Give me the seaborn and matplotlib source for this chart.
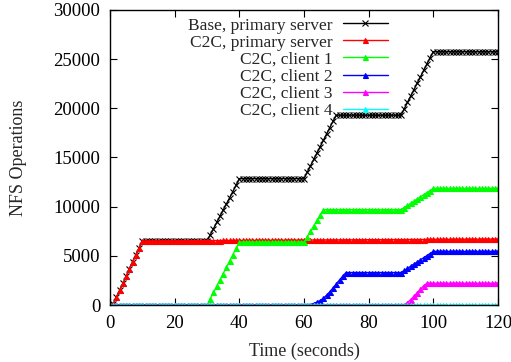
import matplotlib
matplotlib.use("Agg")
import matplotlib.pyplot as plt
import seaborn as sns
import pandas as pd

# ---- data (1 s sampling, t = 0..120) ----
time_s = list(range(0, 121))

base_primary = [
    0, 100, 800, 1500, 2200, 2900, 3700, 4400, 5100, 5800,
    6500, 6500, 6500, 6500, 6500, 6500, 6500, 6500, 6500, 6500,
    6500, 6500, 6500, 6500, 6500, 6500, 6500, 6500, 6500, 6500,
    6500, 7130, 7760, 8390, 9020, 9650, 10280, 10910, 11540, 12170,
    12850, 12850, 12850, 12850, 12850, 12850, 12850, 12850, 12850, 12850,
    12850, 12850, 12850, 12850, 12850, 12850, 12850, 12850, 12850, 12850,
    12850, 13500, 14150, 14800, 15450, 16100, 16750, 17400, 18050, 18700,
    19300, 19300, 19300, 19300, 19300, 19300, 19300, 19300, 19300, 19300,
    19300, 19300, 19300, 19300, 19300, 19300, 19300, 19300, 19300, 19300,
    19300, 19950, 20600, 21250, 21900, 22550, 23200, 23850, 24500, 25150,
    25750, 25750, 25750, 25750, 25750, 25750, 25750, 25750, 25750, 25750,
    25750, 25750, 25750, 25750, 25750, 25750, 25750, 25750, 25750, 25750,
    25750,
]

c2c_primary = [
    0, 100, 800, 1500, 2200, 2900, 3700, 4400, 5100, 5800,
    6500, 6500, 6500, 6500, 6510, 6510, 6510, 6510, 6520, 6520,
    6520, 6520, 6530, 6530, 6530, 6530, 6540, 6540, 6540, 6540,
    6550, 6550, 6550, 6550, 6550, 6560, 6560, 6560, 6560, 6560,
    6570, 6570, 6570, 6570, 6570, 6580, 6580, 6580, 6580, 6580,
    6590, 6590, 6590, 6590, 6590, 6600, 6600, 6600, 6600, 6600,
    6600, 6600, 6610, 6610, 6610, 6610, 6610, 6620, 6620, 6620,
    6620, 6620, 6620, 6630, 6630, 6630, 6630, 6630, 6630, 6640,
    6640, 6640, 6640, 6640, 6640, 6650, 6650, 6650, 6650, 6650,
    6650, 6650, 6660, 6660, 6660, 6660, 6660, 6660, 6670, 6670,
    6670, 6670, 6670, 6670, 6680, 6680, 6680, 6680, 6680, 6680,
    6690, 6690, 6690, 6690, 6690, 6690, 6700, 6700, 6700, 6700,
    6700,
]

c2c_client1 = [
    0, 0, 0, 0, 0, 0, 0, 0, 0, 0,
    0, 0, 0, 0, 0, 0, 0, 0, 0, 0,
    0, 0, 0, 0, 0, 0, 0, 0, 0, 0,
    0, 640, 1280, 1920, 2560, 3200, 3840, 4480, 5120, 5760,
    6400, 6400, 6400, 6400, 6400, 6400, 6400, 6400, 6400, 6400,
    6400, 6400, 6400, 6400, 6400, 6400, 6400, 6400, 6400, 6400,
    6400, 6950, 7500, 8050, 8600, 9150, 9700, 9700, 9700, 9700,
    9700, 9700, 9700, 9700, 9700, 9700, 9700, 9700, 9700, 9700,
    9700, 9700, 9700, 9700, 9700, 9700, 9700, 9700, 9700, 9700,
    9700, 9915, 10130, 10345, 10560, 10775, 10990, 11205, 11420, 11635,
    11850, 11850, 11850, 11850, 11850, 11850, 11850, 11850, 11850, 11850,
    11850, 11850, 11850, 11850, 11850, 11850, 11850, 11850, 11850, 11850,
    11850,
]

c2c_client2 = [
    0, 0, 0, 0, 0, 0, 0, 0, 0, 0,
    0, 0, 0, 0, 0, 0, 0, 0, 0, 0,
    0, 0, 0, 0, 0, 0, 0, 0, 0, 0,
    0, 0, 0, 0, 0, 0, 0, 0, 0, 0,
    0, 0, 0, 0, 0, 0, 0, 0, 0, 0,
    0, 0, 0, 0, 0, 0, 0, 0, 0, 0,
    0, 20, 50, 150, 300, 450, 700, 1000, 1350, 1750,
    2150, 2550, 2950, 3300, 3300, 3300, 3300, 3300, 3300, 3300,
    3300, 3300, 3300, 3300, 3300, 3300, 3300, 3300, 3300, 3300,
    3300, 3515, 3730, 3945, 4160, 4375, 4590, 4805, 5020, 5235,
    5450, 5450, 5450, 5450, 5450, 5450, 5450, 5450, 5450, 5450,
    5450, 5450, 5450, 5450, 5450, 5450, 5450, 5450, 5450, 5450,
    5450,
]

c2c_client3 = [
    0, 0, 0, 0, 0, 0, 0, 0, 0, 0,
    0, 0, 0, 0, 0, 0, 0, 0, 0, 0,
    0, 0, 0, 0, 0, 0, 0, 0, 0, 0,
    0, 0, 0, 0, 0, 0, 0, 0, 0, 0,
    0, 0, 0, 0, 0, 0, 0, 0, 0, 0,
    0, 0, 0, 0, 0, 0, 0, 0, 0, 0,
    0, 0, 0, 0, 0, 0, 0, 0, 0, 0,
    0, 0, 0, 0, 0, 0, 0, 0, 0, 0,
    0, 0, 0, 0, 0, 0, 0, 0, 0, 0,
    0, 0, 250, 550, 900, 1250, 1600, 1950, 2200, 2200,
    2200, 2200, 2200, 2200, 2200, 2200, 2200, 2200, 2200, 2200,
    2200, 2200, 2200, 2200, 2200, 2200, 2200, 2200, 2200, 2200,
    2200,
]

c2c_client4 = [
    30, 30, 30, 30, 30, 30, 30, 30, 30, 30,
    30, 30, 30, 30, 30, 30, 30, 30, 30, 30,
    30, 30, 30, 30, 30, 30, 30, 30, 30, 30,
    30, 30, 30, 30, 30, 30, 30, 30, 30, 30,
    30, 30, 30, 30, 30, 30, 30, 30, 30, 30,
    30, 30, 30, 30, 30, 30, 30, 30, 30, 30,
    30, 30, 30, 30, 30, 30, 30, 30, 30, 30,
    30, 30, 30, 30, 30, 30, 30, 30, 30, 30,
    30, 30, 30, 30, 30, 30, 30, 30, 30, 30,
    30, 30, 30, 30, 30, 30, 30, 30, 30, 30,
    30, 30, 30, 30, 30, 30, 30, 30, 30, 30,
    30, 30, 30, 30, 30, 30, 30, 30, 30, 30,
    30,
]

series_names = [
    "Base, primary server",
    "C2C, primary server",
    "C2C, client 1",
    "C2C, client 2",
    "C2C, client 3",
    "C2C, client 4",
]
series_values = [base_primary, c2c_primary, c2c_client1,
                 c2c_client2, c2c_client3, c2c_client4]
series_colors = ["#000000", "#ff0000", "#00ff00", "#0000ff", "#ff00ff", "#00ffff"]
series_markers = ["x", "^", "^", "^", "^", "^"]

x_ticks = [0, 20, 40, 60, 80, 100, 120]
y_ticks = [0, 5000, 10000, 15000, 20000, 25000, 30000]

# ---- build long table ----
rows = []
for name, vals in zip(series_names, series_values):
    for t, v in zip(time_s, vals):
        rows.append({"time": t, "ops": v, "series": name})
df = pd.DataFrame(rows)

sns.set_theme(style="ticks")
plt.rcParams["font.family"] = ["Liberation Serif", "DejaVu Serif"]

fig = plt.figure(figsize=(5.11, 3.62), dpi=100)
ax = fig.add_axes([110 / 511, 1 - 305 / 362, 388 / 511, 295 / 362])

for name, color, marker in zip(series_names, series_colors, series_markers):
    sub = df[df["series"] == name]
    ms = 4.0 if marker == "x" else 3.6
    sns.lineplot(data=sub, x="time", y="ops", ax=ax, color=color,
                 marker=marker, markersize=ms, markeredgewidth=0.8,
                 markeredgecolor=color, linewidth=1.0, label=name,
                 errorbar=None, estimator=None)

ax.set_xlim(0, 120)
ax.set_ylim(0, 30000)
ax.set_xticks(x_ticks)
ax.set_yticks(y_ticks)
ax.set_xticklabels([str(v) for v in x_ticks])
ax.set_yticklabels([str(v) for v in y_ticks])
ax.tick_params(direction="in", length=5, width=0.8, top=True, right=True,
               labelsize=13.5, pad=7, colors="black")
for sp in ax.spines.values():
    sp.set_visible(True)
    sp.set_linewidth(1.0)
    sp.set_color("black")
ax.set_xlabel("Time (seconds)", fontsize=13)
ax.set_ylabel("NFS Operations", fontsize=13)
ax.xaxis.set_label_coords(0.5, -0.128)
ax.yaxis.set_label_coords(-0.235, 0.5)
ax.yaxis.label.set_verticalalignment("center")
ax.xaxis.label.set_verticalalignment("top")
ax.grid(False)

handles, labels = ax.get_legend_handles_labels()
ax.legend(handles, labels, loc="upper right", bbox_to_anchor=(0.716, 0.975),
          frameon=False, markerfirst=False, fontsize=12.5, handlelength=2.6,
          handletextpad=0.6, labelspacing=0.05, borderpad=0, borderaxespad=0,
          numpoints=1)

fig.savefig("out.png", dpi=100)
